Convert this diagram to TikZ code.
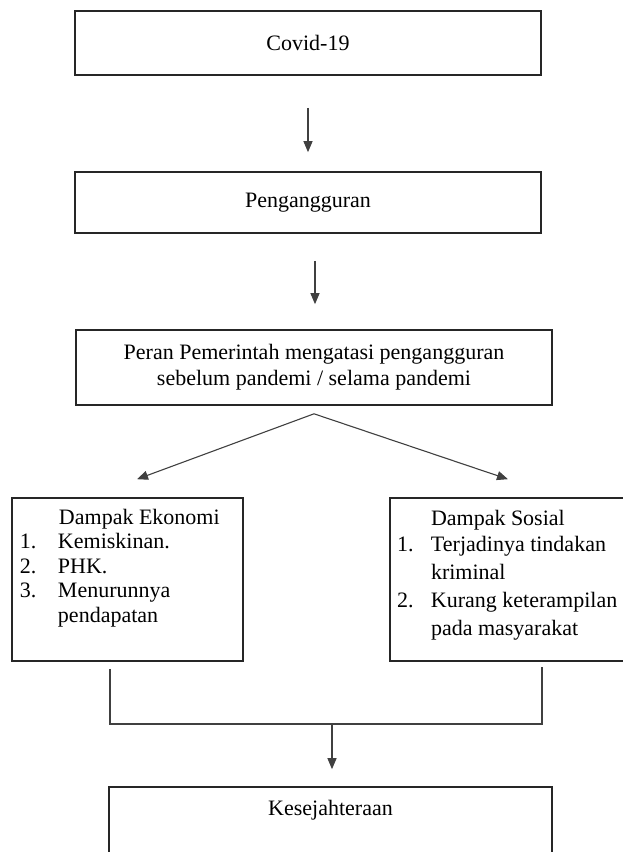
\documentclass[tikz,border=0pt]{standalone}
\usepackage{fontspec}
\setmainfont{Liberation Serif}
\usetikzlibrary{arrows.meta, calc, positioning}

\begin{document}
\begin{tikzpicture}[x=1pt,y=-1pt,
        every node/.style={font=\fontsize{22}{26}\selectfont},
        box/.style={draw=black!85, line width=1.6pt, inner sep=0pt},
        link/.style={draw=black!75, line width=1.1pt},
        arr/.style={link, -{Triangle[width=9pt,length=11pt]}}]
    \useasboundingbox (0,0) rectangle (623,852);
    % kotak utama
    \node[box, minimum width=466pt, minimum height=64pt] (covid) at (308,43) {Covid-19};
    \node[box, minimum width=466pt, minimum height=61pt] (peng) at (308,202.5) {Pengangguran};
    \node[box, minimum width=476pt, minimum height=75pt, align=center] (peran) at (314,367.5)
        {Peran Pemerintah mengatasi pengangguran\\sebelum pandemi / selama pandemi};
    % dampak
    \node[box] (eko) at (127.5,579.5) {\parbox[c][163pt][t]{231pt}{\fontsize{22}{24.5}\selectfont
        \vspace*{11pt}\hspace*{47pt}Dampak Ekonomi\\
        \hspace*{8pt}\makebox[38pt][l]{1.}Kemiskinan.\\
        \hspace*{8pt}\makebox[38pt][l]{2.}PHK.\\
        \hspace*{8pt}\makebox[38pt][l]{3.}Menurunnya\\
        \hspace*{46pt}pendapatan}};
    \node[box] (sos) at (510,579.5) {\parbox[c][163pt][t]{240pt}{\fontsize{22}{28}\selectfont
        \vspace*{12pt}\hspace*{41pt}Dampak Sosial\\[-2pt]
        \hspace*{7pt}\makebox[34pt][l]{1.}Terjadinya tindakan\\
        \hspace*{41pt}kriminal\\
        \hspace*{7pt}\makebox[34pt][l]{2.}Kurang keterampilan\\
        \hspace*{41pt}pada masyarakat}};
    \node[box] (kes) at (330.5,852) {\parbox[c][130pt][t]{443pt}{\centering
        \vspace*{13pt}Kesejahteraan}};

    % panah
    \draw[arr] ([yshift=-32pt]covid.south) -- ([yshift=19pt]peng.north);
    \draw[arr] ([xshift=7pt,yshift=-27pt]peng.south) -- ([xshift=1pt,yshift=25pt]peran.north);
    \coordinate (apex) at ([yshift=-8pt]peran.south);
    \draw[arr] (apex) -- ([xshift=9.5pt,yshift=18pt]eko.north);
    \draw[arr] (apex) -- ([xshift=-2pt,yshift=18pt]sos.north);
    \coordinate (jl) at ([xshift=-17.5pt,yshift=-7pt]eko.south);
    \coordinate (jr) at ([xshift=32pt,yshift=-5pt]sos.south);
    \coordinate (join) at (332,724);
    \draw[link] (jl) |- (join) -| (jr);
    \draw[arr] (join) -- ([xshift=1.5pt,yshift=17pt]kes.north);
\end{tikzpicture}
\end{document}
